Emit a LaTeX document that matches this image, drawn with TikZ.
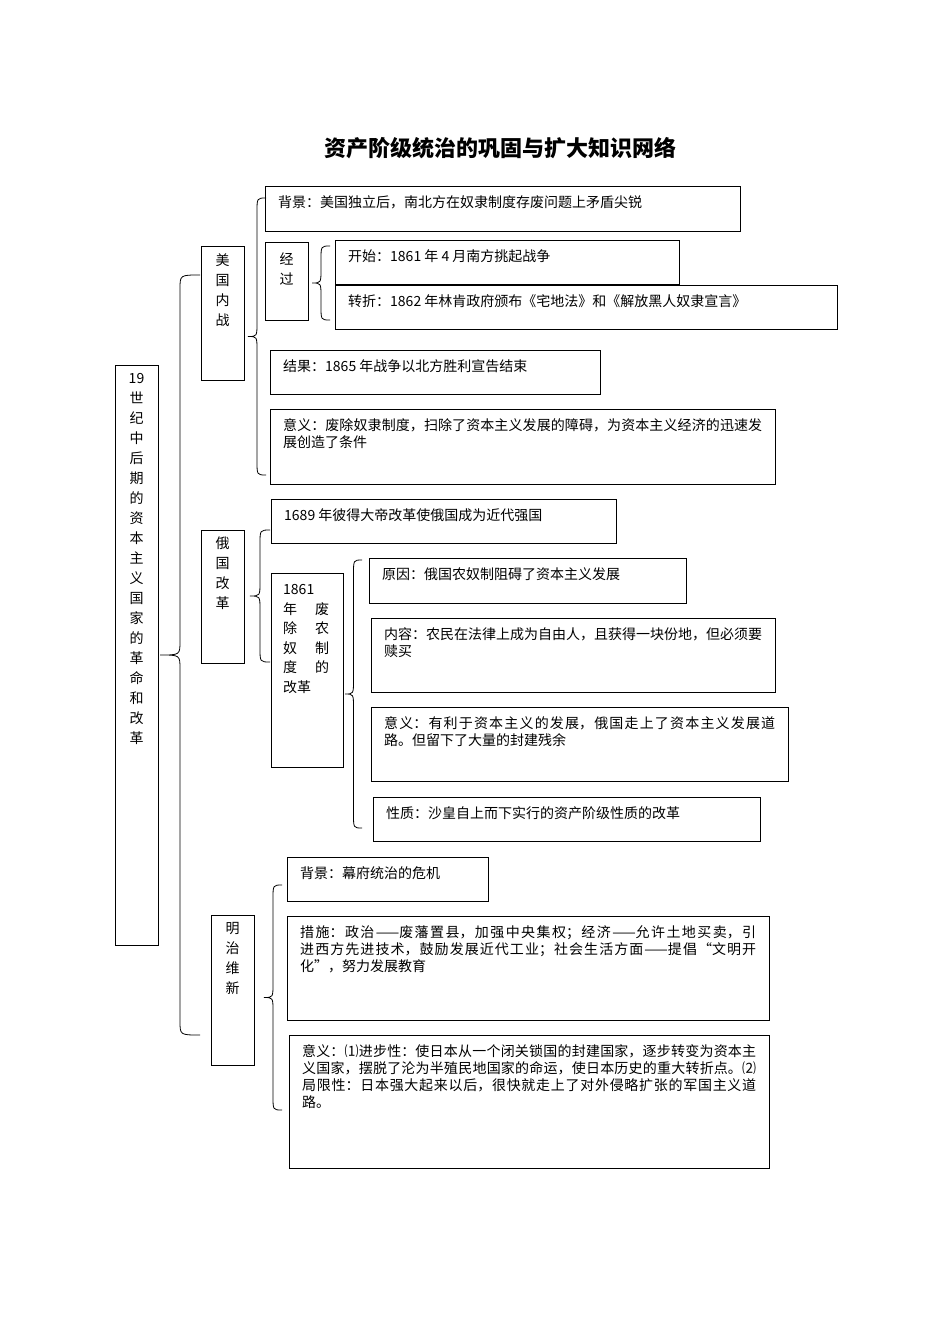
\documentclass[tikz,border=0pt]{standalone}
\usepackage{fontspec}
\setmainfont{Liberation Serif}
\newfontfamily\cjk{Noto Sans CJK SC}
\XeTeXlinebreaklocale "zh"
\XeTeXlinebreakskip=0pt plus 1pt
\tikzset{
 bx/.style={draw,thick,anchor=north west,inner sep=0pt},
 tx/.style={anchor=north west,inner sep=0pt,align=justify,font=\cjk\fontsize{14}{17}\selectfont},
 vt/.style={anchor=north,inner sep=0pt,align=center,font=\cjk\fontsize{14}{20}\selectfont}
}
\newcommand\mybr[4]{%
 \pgfmathsetmacro\bm{(#1+#4)/2}\pgfmathsetmacro\ym{(#2+#3)/2}%
 \draw[thick] (#1,#2) .. controls (\bm,#2) .. (\bm,#2+14) -- (\bm,\ym-14) .. controls (\bm,\ym) .. (#4,\ym) .. controls (\bm,\ym) .. (\bm,\ym+14) -- (\bm,#3-14) .. controls (\bm,#3) .. (#1,#3);}
\newcommand\bbox[6]{% name, x1,y1,x2,y2, text
 \node[bx,minimum width=#4-#2,minimum height=#5-#3] (#1) at (#2,#3) {};
 \node[tx,text width=#4-#2-26] (#1t) at (#2+13,#3+9) {#6};}
\begin{document}
\begin{tikzpicture}[x=1pt,y=-1pt]
\useasboundingbox[fill=white] (0,0) rectangle (950,1344);
\node[font=\cjk\bfseries\fontsize{22}{26}\selectfont] (title) at (500,148) {资产阶级统治的巩固与扩大知识网络};
% left column
\node[bx,minimum width=43,minimum height=580] (main) at (115,365) {};
\node[vt] (maint) at (136.5,373) {19\\世\\纪\\中\\后\\期\\的\\资\\本\\主\\义\\国\\家\\的\\革\\命\\和\\改\\革};
\mybr{200}{275}{1035}{160}
% US
\node[bx,minimum width=43,minimum height=134] (us) at (201,246) {};
\node[vt] (ust) at (222.5,253) {美\\国\\内\\战};
\mybr{266}{198}{475}{248}
\bbox{a1}{265}{186}{740}{231}{背景：美国独立后，南北方在奴隶制度存废问题上矛盾尖锐}
\node[bx,minimum width=43,minimum height=78] (jg) at (265,242) {};
\node[vt] (jgt) at (286.5,253) {经\\过};
\mybr{330}{246}{320}{312}
\bbox{a2}{335}{240}{679}{284}{开始：1861 年 4 月南方挑起战争}
\bbox{a3}{335}{285}{837}{329}{转折：1862 年林肯政府颁布《宅地法》和《解放黑人奴隶宣言》}
\bbox{a4}{270}{350}{600}{394}{结果：1865 年战争以北方胜利宣告结束}
\bbox{a5}{270}{409}{775}{484}{意义：废除奴隶制度，扫除了资本主义发展的障碍，为资本主义经济的迅速发展创造了条件}
% Russia
\node[bx,minimum width=43,minimum height=133] (ru) at (201,530) {};
\node[vt] (rut) at (222.5,537) {俄\\国\\改\\革};
\mybr{270}{530}{662}{250}
\bbox{b1}{271}{499}{616}{543}{1689 年彼得大帝改革使俄国成为近代强国}
\node[bx,minimum width=72,minimum height=194] (b2) at (271,573) {};
\node[anchor=north west,inner sep=0pt,font=\cjk\fontsize{14}{19.5}\selectfont] (b2t) at (283,581) {\begin{tabular}{@{}p{46pt}@{}}1861\\年\hfill 废\\除\hfill 农\\奴\hfill 制\\度\hfill 的\\改革\end{tabular}};
\mybr{362}{560}{828}{345}
\bbox{b3}{369}{558}{686}{603}{原因：俄国农奴制阻碍了资本主义发展}
\bbox{b4}{371}{618}{775}{692}{内容：农民在法律上成为自由人，且获得一块份地，但必须要赎买}
\bbox{b5}{371}{707}{788}{781}{意义：有利于资本主义的发展，俄国走上了资本主义发展道路。但留下了大量的封建残余}
\bbox{b6}{373}{797}{760}{841}{性质：沙皇自上而下实行的资产阶级性质的改革}
% Japan
\node[bx,minimum width=43,minimum height=150] (jp) at (211,915) {};
\node[vt] (jpt) at (232.5,922) {明\\治\\维\\新};
\mybr{282}{885}{1110}{264}
\bbox{c1}{287}{857}{488}{901}{背景：幕府统治的危机}
\bbox{c2}{287}{916}{769}{1020}{措施：政治——废藩置县，加强中央集权；经济——允许土地买卖，引进西方先进技术，鼓励发展近代工业；社会生活方面——提倡“文明开化”，努力发展教育}
\bbox{c3}{289}{1035}{769}{1168}{意义：⑴进步性：使日本从一个闭关锁国的封建国家，逐步转变为资本主义国家，摆脱了沦为半殖民地国家的命运，使日本历史的重大转折点。⑵局限性：日本强大起来以后，很快就走上了对外侵略扩张的军国主义道路。}
\end{tikzpicture}
\end{document}
